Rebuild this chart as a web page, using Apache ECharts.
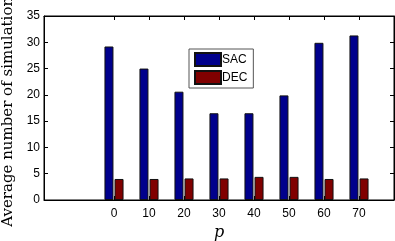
<!DOCTYPE html>
<html><head><meta charset="utf-8">
<script src="https://cdn.jsdelivr.net/npm/echarts@6/dist/echarts.min.js"></script>
<style>html,body{margin:0;padding:0;background:#fff}#c{width:395px;height:241px}</style>
</head><body><div id="c"></div>
<script>
var pValues = [0, 10, 20, 30, 40, 50, 60, 70];
var sacValues = [29.2, 25.0, 20.6, 16.5, 16.5, 19.9, 29.9, 31.3];
var decValues = [4.0, 4.0, 4.1, 4.1, 4.4, 4.4, 4.0, 4.1];
var yTicks = [0, 5, 10, 15, 20, 25, 30, 35];

var chart = echarts.init(document.getElementById('c'), null, {renderer: 'canvas'});
var font = 'Liberation Sans, Arial, sans-serif';
function pairs(v){ return pValues.map(function(p,i){ return [p, v[i]]; }); }
var xBase = {
  type: 'value', min: -20, max: 80, interval: 10,
  axisLine: {onZero: false, lineStyle: {color: '#000', width: 1}},
  splitLine: {show: false},
  axisTick: {inside: true, length: 4, customValues: pValues, lineStyle: {color: '#000'}},
};
var yBase = {
  type: 'value', min: 0, max: 35, interval: 5,
  axisLine: {show: true, onZero: false, lineStyle: {color: '#000', width: 1}},
  splitLine: {show: false},
  axisTick: {inside: true, length: 4, lineStyle: {color: '#000'}},
};
chart.setOption({
  animation: false,
  grid: {left: 44, right: 1, top: 16, bottom: 41, outerBoundsMode: 'none', containLabel: false,
         show: true, borderColor: '#000', borderWidth: 1, backgroundColor: '#fff'},
  legend: {
    orient: 'vertical', left: 189, top: 49, itemWidth: 26, itemHeight: 13, itemGap: 3, icon: 'rect',
    borderColor: '#555', borderWidth: 1, padding: [3, 6, 3, 5], backgroundColor: '#fff',
    textStyle: {fontFamily: font, fontSize: 12, color: '#000', padding: [0,0,0,-4]},
    data: ['SAC', 'DEC']
  },
  xAxis: [
    Object.assign({}, xBase, {position: 'bottom', name: 'p', nameLocation: 'middle', nameGap: 16,
      nameTextStyle: {fontFamily: 'DejaVu Serif, serif', fontStyle: 'italic', fontSize: 16, color: '#000'},
      axisLabel: {customValues: pValues, fontFamily: font, fontSize: 12, color: '#000', margin: 8}}),
    Object.assign({}, xBase, {position: 'top', axisLabel: {show: false}})
  ],
  yAxis: [
    Object.assign({}, yBase, {position: 'left', name: 'Average number of simulations', nameLocation: 'middle', nameGap: 28,
      nameTextStyle: {fontFamily: 'DejaVu Serif, serif', fontSize: 15, color: '#000'},
      axisLabel: {fontFamily: font, fontSize: 12, color: '#000', margin: 4}}),
    Object.assign({}, yBase, {position: 'right', axisLabel: {show: false}})
  ],
  series: [
    {name: 'SAC', type: 'bar', data: pairs(sacValues), barWidth: 9, barGap: '12%',
     itemStyle: {color: '#00008c', borderColor: '#111', borderWidth: 1}},
    {name: 'DEC', type: 'bar', data: pairs(decValues), barWidth: 9, barGap: '12%',
     itemStyle: {color: '#800000', borderColor: '#111', borderWidth: 1}}
  ]
});
</script></body></html>
